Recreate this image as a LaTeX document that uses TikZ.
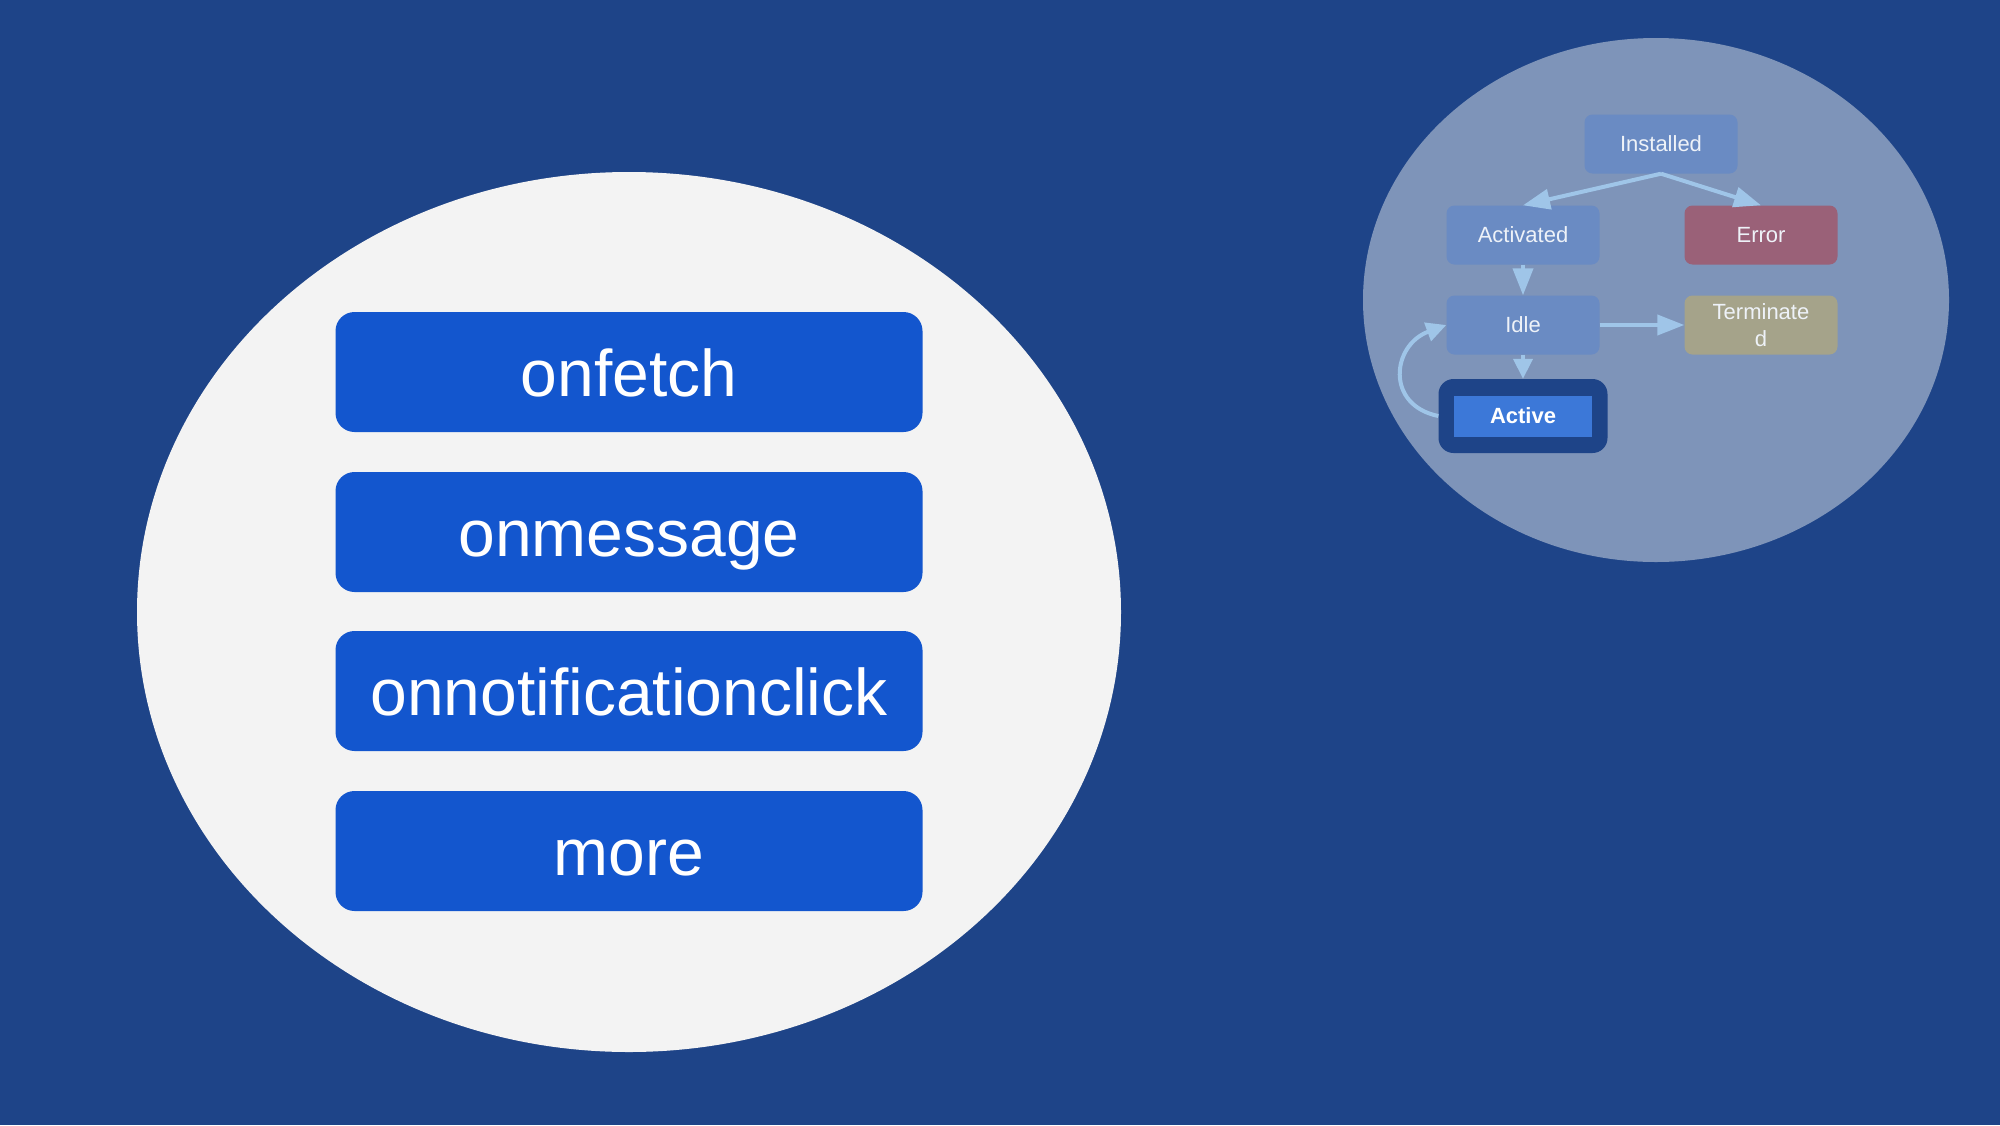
\documentclass[tikz,border=0pt]{standalone}
\usepackage{fontspec}
\setmainfont{Liberation Sans}
\usetikzlibrary{arrows.meta}
\definecolor{bg}{HTML}{1E4488}
\definecolor{leftell}{HTML}{F3F3F3}
\definecolor{bigbox}{HTML}{1356CE}
\definecolor{rightell}{HTML}{7E94B9}
\definecolor{statebox}{HTML}{6A8BC3}
\definecolor{errbox}{HTML}{9A6178}
\definecolor{termbox}{HTML}{A5A38A}
\definecolor{activein}{HTML}{3C78D8}
\definecolor{arrowc}{HTML}{9FC5E8}
\definecolor{smalltext}{HTML}{EEF2F8}
\begin{document}
\begin{tikzpicture}[x=1pt,y=-1pt,
  bigitem/.style={draw=none, fill=bigbox, rounded corners=19pt, minimum width=587pt, minimum height=120pt, text=white, font=\fontsize{66}{79}\selectfont, inner sep=0pt, text height=53pt, text depth=5pt},
  state/.style={draw=none, fill=statebox, rounded corners=8pt, minimum width=153pt, minimum height=59pt, text=smalltext, font=\fontsize{22}{27}\selectfont, inner sep=0pt, align=center},
  arr/.style={draw=arrowc, line width=4pt, -{Triangle[length=27pt,width=20pt]}},
  shortarr/.style={draw=arrowc, line width=4pt, -{Triangle[length=20pt,width=19pt]}}
]
\useasboundingbox (0,0) rectangle (2000,1125);
\fill[bg] (0,0) rectangle (2000,1125);
% left ellipse
\fill[leftell] (629,612) ellipse [x radius=492pt, y radius=440pt];
\node[bigitem] (onfetch) at (629,372) {onfetch};
\node[bigitem] (onmessage) at (629,532) {onmessage};
\node[bigitem] (onnotif) at (629,691) {onnotificationclick};
\node[bigitem] (more) at (629,851) {more};
% right ellipse
\fill[rightell] (1656,300) ellipse [x radius=293pt, y radius=262pt];
\node[state] (installed) at (1661,144) {Installed};
\node[state] (activated) at (1523,235) {Activated};
\node[state, fill=errbox] (error) at (1761,235) {Error};
\node[state] (idle) at (1523,325) {Idle};
\node[state, fill=termbox] (terminated) at (1761,325) {Terminate\\d};
\node[draw=none, fill=bg, rounded corners=15pt, minimum width=169pt, minimum height=74pt, inner sep=0pt] (activeouter) at (1523,416) {};
\node[draw=none, fill=activein, minimum width=138pt, minimum height=41pt, inner sep=0pt, text=white, font=\fontsize{22}{27}\selectfont\bfseries] (active) at (1523,416) {Active};
% connectors
\draw[arr] (installed.south) -- (activated.north);
\draw[arr] (installed.south) -- (error.north);
\draw[arr] (activated.south) -- (idle.north);
\draw[shortarr] (idle.south) -- (activeouter.north);
\draw[arr] (idle.east) -- (terminated.west);
\draw[shortarr] (activeouter.west) .. controls (1385,405) and (1392,345) .. (idle.west);
\end{tikzpicture}
\end{document}
